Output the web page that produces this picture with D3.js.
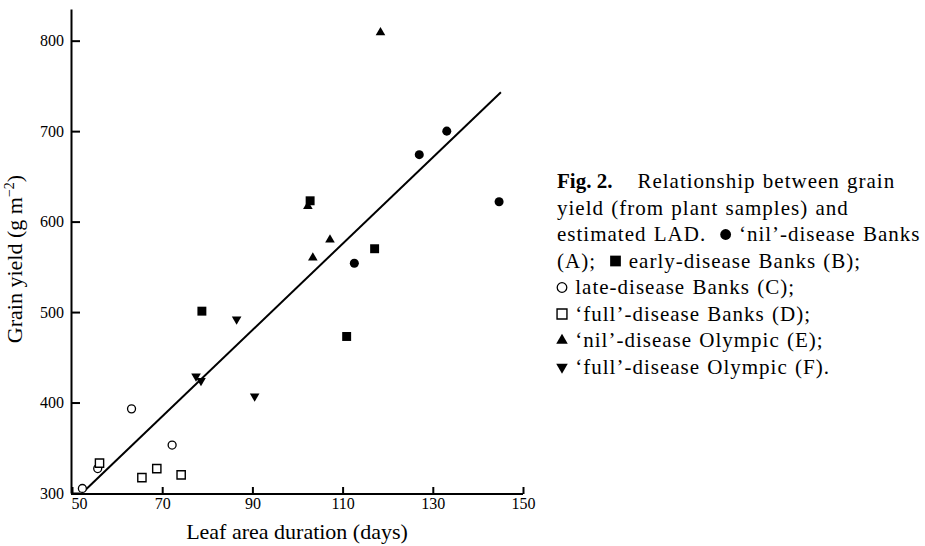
<!DOCTYPE html>
<html>
<head>
<meta charset="utf-8">
<script src="https://cdn.jsdelivr.net/npm/d3@7"></script>
<style>
  body { margin: 0; background: #fff; }
  svg text { font-family: "Liberation Serif", "Times New Roman", serif; fill: #000; }
</style>
</head>
<body>
<div id="container"></div>
<script>
// grain yield vs leaf area duration, one array per treatment [LAD, yield]
var nilBanks      = [[112.6, 554], [127, 674], [133.1, 700], [144.7, 622]];
var earlyBanks    = [[78.8, 501], [102.8, 623], [110.9, 473], [117.1, 570]];
var lateBanks     = [[52.3, 305], [55.7, 327], [63.2, 393], [72.2, 353]];
var fullBanks     = [[56.1, 333], [65.5, 317], [68.8, 327], [74.2, 320]];
var nilOlympic    = [[102.3, 617], [103.4, 560], [107.2, 580], [118.4, 809]];
var fullOlympic   = [[77.5, 429], [78.6, 424], [86.5, 492], [90.5, 407]];

// fitted regression line end points
var fitLine = [[52.9, 303], [145.1, 743]];

var xTicks = [50, 70, 90, 110, 130, 150];
var yTicks = [300, 400, 500, 600, 700, 800];

var xTitle = "Leaf area duration (days)";
var yTitle = ["Grain yield (g m", "\u22122", ")"];

var captionHead = "Fig. 2.";
var captionLines = [
  "Relationship between grain",
  "yield (from plant samples) and",
  "estimated LAD.  {A} \u2018nil\u2019-disease Banks",
  "(A);  {B} early-disease Banks (B);",
  "{C} late-disease Banks (C);",
  "{D} \u2018full\u2019-disease Banks (D);",
  "{E} \u2018nil\u2019-disease Olympic (E);",
  "{F} \u2018full\u2019-disease Olympic (F)."
];

var series = [
  { key: "A", pts: nilBanks },
  { key: "B", pts: earlyBanks },
  { key: "C", pts: lateBanks },
  { key: "D", pts: fullBanks },
  { key: "E", pts: nilOlympic },
  { key: "F", pts: fullOlympic }
];

var W = 925, H = 546;
var svg = d3.select("#container").append("svg")
  .attr("width", W).attr("height", H);

var x = d3.scaleLinear().domain([50, 150]).range([72, 523]);
var y = d3.scaleLinear().domain([300, 835]).range([493, 9]);

// marker drawing, shared by plot and caption
function marker(sel, key, big) {
  var k = big ? 1.2 : 1;
  if (key === "A") {
    sel.append("path").attr("d", d3.symbol(d3.symbolCircle, 64 * k * k)()).attr("fill", "#000");
  } else if (key === "B") {
    sel.append("path").attr("d", d3.symbol(d3.symbolSquare, 80 * k * k)()).attr("fill", "#000");
  } else if (key === "C") {
    sel.append("path").attr("d", d3.symbol(d3.symbolCircle, 50 * k * k)())
      .attr("fill", "#fff").attr("stroke", "#000").attr("stroke-width", 1.3);
  } else if (key === "D") {
    sel.append("path").attr("d", d3.symbol(d3.symbolSquare, 68 * k * k)())
      .attr("fill", "#fff").attr("stroke", "#000").attr("stroke-width", 1.4);
  } else if (key === "E") {
    sel.append("path").attr("d", d3.symbol(d3.symbolTriangle, 40 * k * k)()).attr("fill", "#000");
  } else {
    sel.append("path").attr("d", d3.symbol(d3.symbolTriangle, 40 * k * k)())
      .attr("transform", "rotate(180)").attr("fill", "#000");
  }
}

// axes
var yAxis = d3.axisLeft(y).tickValues(yTicks).tickSizeInner(-9).tickSizeOuter(0).tickPadding(7);
var xAxis = d3.axisBottom(x).tickValues(xTicks).tickSizeInner(-7).tickSizeOuter(0).tickPadding(4);

var gy = svg.append("g").attr("transform", "translate(71,0)").call(yAxis);
var gx = svg.append("g").attr("transform", "translate(0,494)").call(xAxis);

[gy, gx].forEach(function(g) {
  g.select(".domain").attr("stroke", "#000").attr("stroke-width", 2);
  g.selectAll(".tick line").attr("stroke", "#000").attr("stroke-width", 2);
  g.selectAll(".tick text").attr("font-family", "Liberation Serif").attr("font-size", 16).attr("fill", "#000");
});
gx.select(".domain").attr("d", "M" + (x.range()[0] - 1) + ",0H" + x.range()[1]);
gx.selectAll(".tick text").filter(function(d) { return d === 50; }).attr("dx", 7);

// axis titles
svg.append("text")
  .attr("x", 297).attr("y", 539)
  .attr("text-anchor", "middle")
  .attr("font-size", 22)
  .text(xTitle);

var yt = svg.append("text")
  .attr("transform", "translate(22,259) rotate(-90)")
  .attr("text-anchor", "middle")
  .attr("font-size", 22);
yt.append("tspan").text(yTitle[0]);
yt.append("tspan").attr("dy", -8).attr("font-size", 14).text(yTitle[1]);
yt.append("tspan").attr("dy", 8).text(yTitle[2]);

// regression line
svg.append("path")
  .attr("d", d3.line().x(function(d) { return x(d[0]); }).y(function(d) { return y(d[1]); })(fitLine))
  .attr("fill", "none").attr("stroke", "#000").attr("stroke-width", 2);

// points
series.forEach(function(s) {
  svg.append("g").selectAll("g")
    .data(s.pts)
    .enter().append("g")
    .attr("transform", function(d) { return "translate(" + x(d[0]) + "," + y(d[1]) + ")"; })
    .each(function() { marker(d3.select(this), s.key, false); });
});

// caption with inline symbols
var cap = svg.append("g");
var capX = 557, capY = 188, capStep = 26.5;

var head = cap.append("text")
  .attr("x", capX).attr("y", capY)
  .attr("font-size", 21).attr("font-weight", "bold")
  .text(captionHead);

captionLines.forEach(function(line, i) {
  var cx = capX, by = capY + i * capStep;
  if (i === 0) cx = capX + head.node().getComputedTextLength() + 25;
  line.split(/(\{[A-F]\})/).forEach(function(part) {
    if (!part) return;
    var m = part.match(/^\{([A-F])\}$/);
    if (m) {
      var sg = cap.append("g").attr("transform", "translate(" + (cx + 5) + "," + (by - 6.5) + ")");
      marker(sg, m[1], true);
      cx += 11;
    } else {
      var t = cap.append("text")
        .attr("x", cx).attr("y", by)
        .attr("font-size", 21)
        .style("letter-spacing", "1px")
        .style("word-spacing", "1px")
        .style("white-space", "pre")
        .text(part);
      cx += t.node().getComputedTextLength();
    }
  });
});
</script>
</body>
</html>
